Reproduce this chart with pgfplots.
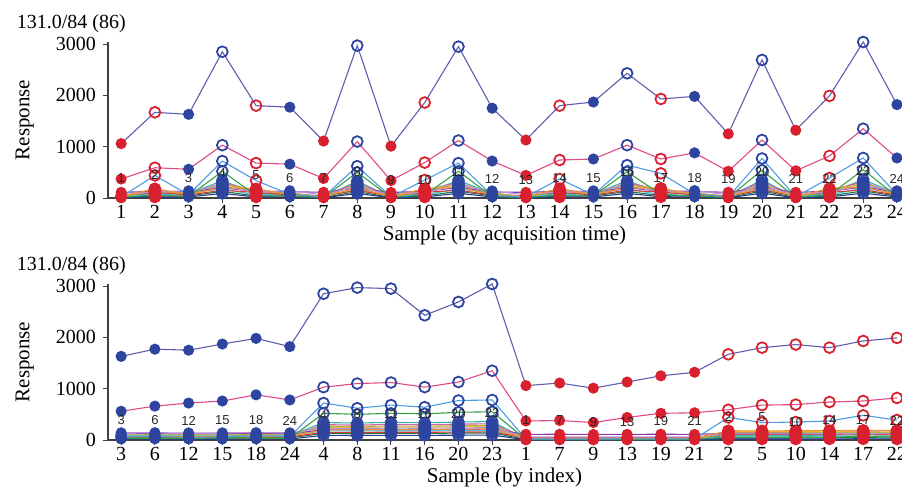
\documentclass[border=0pt]{standalone}
\usepackage{fontspec}
\setmainfont{Liberation Serif}
\newfontfamily\labfont{Liberation Sans}
\usepackage{pgfplots}
\usepackage{pgfplotstable}
\pgfplotsset{compat=1.18}

\definecolor{lnpurple}{HTML}{5E5EB0}
\definecolor{lnpink}{HTML}{E04A86}
\definecolor{lnlblue}{HTML}{4E9BE0}
\definecolor{lngreen}{HTML}{38A046}
\definecolor{mkblue}{HTML}{2E45A0}
\definecolor{mkred}{HTML}{D8202E}
\definecolor{axisgray}{HTML}{404040}
\definecolor{labgray}{HTML}{282828}
\definecolor{c5}{HTML}{3AB0A8}
\definecolor{c6}{HTML}{D060B0}
\definecolor{c7}{HTML}{E8C830}
\definecolor{c8}{HTML}{8A3AA8}
\definecolor{c9}{HTML}{40C8E8}
\definecolor{c10}{HTML}{1E7A3A}
\definecolor{c11}{HTML}{263A9A}
\definecolor{c12}{HTML}{D83A3A}
\definecolor{c13}{HTML}{B8B040}
\definecolor{c14}{HTML}{B890E0}
\definecolor{c15}{HTML}{F09030}

% acq = sample number, idx = position in the lower chart, grp = marker group, ly = height of the sample label
\pgfplotstableread{
acq idx grp ly s1 s2 s3 s4 s5 s6 s7 s8 s9 s10 s11 s12 s13 s14 s15
1 13 c 380 1060 370 20 10 15 40 30 110 25 10 5 40 20 60 30
2 19 d 450 1670 590 440 60 95 150 170 130 60 40 20 110 140 120 180
3 1 a 380 1630 560 60 30 80 60 50 120 90 40 20 60 100 140 70
4 7 b 490 2850 1030 720 520 340 300 250 200 180 130 90 150 270 230 200
5 20 d 440 1800 680 340 50 85 145 165 128 58 38 20 108 138 118 178
6 2 a 380 1770 660 70 35 75 62 52 122 88 42 22 62 102 142 72
7 14 c 380 1110 380 20 10 18 42 28 112 26 10 5 42 20 62 30
8 8 b 500 2970 1100 620 500 330 290 245 195 175 125 88 148 265 225 195
9 15 c 360 1010 340 18 10 12 38 30 108 24 10 5 38 20 58 30
10 21 d 360 1860 690 350 60 90 150 172 130 60 40 20 110 140 120 180
11 9 b 500 2950 1120 680 520 345 305 255 205 182 132 92 152 272 232 205
12 3 a 380 1750 720 50 30 82 58 48 118 90 40 20 58 98 138 68
13 16 c 360 1130 440 22 10 15 40 32 110 25 10 5 40 20 60 30
14 22 d 390 1800 740 370 55 92 155 168 132 62 42 22 112 142 122 182
15 4 a 380 1870 760 60 40 78 60 50 120 88 40 20 60 100 140 70
16 10 b 500 2430 1030 640 510 335 295 248 198 178 128 90 150 268 228 198
17 23 d 390 1930 760 480 70 100 160 180 135 65 45 24 115 148 125 188
18 5 a 380 1980 880 80 35 85 65 55 125 92 42 22 62 104 144 74
19 17 c 370 1250 520 20 10 16 42 30 112 26 10 5 42 20 62 30
20 11 b 510 2690 1130 770 540 350 310 260 208 185 135 94 155 280 236 210
21 18 c 380 1320 530 22 10 14 40 30 110 25 10 5 40 20 60 30
22 24 d 380 1990 820 390 60 95 150 175 132 62 40 20 110 142 122 185
23 12 b 520 3040 1350 780 550 360 315 265 212 188 138 96 158 285 240 215
24 6 a 380 1820 780 70 30 80 62 50 120 90 40 20 60 100 140 70
}\data
\pgfplotstablesort[sort key=idx]{\databyidx}{\data}

\pgfplotsset{
  chart/.style={
    scale only axis, width=396.5pt, height=78pt,
    xmin=0.61, xmax=24.12, ymin=0, ymax=3040,
    axis lines*=left,
    axis line style={draw=axisgray, line width=0.6pt},
    ytick={0,1000,2000,3000}, xtick={1,...,24},
    tick align=outside, major tick length=2.5pt,
    tick style={draw=axisgray, line width=0.5pt},
    tick label style={font=\fontsize{10}{12}\selectfont, text=black},
    xticklabel style={yshift=2.5pt},
    /pgf/number format/assume math mode=true,
    scaled y ticks=false,
    yticklabel style={/pgf/number format/1000 sep={}},
    ylabel={Response},
    every axis y label/.style={at={(axis description cs:-0.105,0.5)}, rotate=90, anchor=center, font=\fontsize{10.5}{12}\selectfont},
    every axis x label/.style={at={(axis description cs:0.5,-0.24)}, anchor=center, font=\fontsize{10.5}{12}\selectfont},
    title={131.0/84 (86)},
    title style={at={(axis description cs:-0.118,0.97)}, anchor=south west, font=\fontsize{10}{12}\selectfont, inner sep=1pt},
    clip=false,
  },
  grp/.style={scatter, scatter src=explicit symbolic, line width=0.55pt,
    scatter/classes={
      a={mark=*, draw=mkblue, fill=mkblue, mark size=2.5pt},
      b={mark=o, draw=mkblue, mark size=2.7pt, line width=0.9pt},
      c={mark=*, draw=mkred, fill=mkred, mark size=2.5pt},
      d={mark=o, draw=mkred, mark size=2.7pt, line width=0.9pt}}},
  lab/.style={draw=none, nodes near coords, point meta=explicit symbolic,
    nodes near coords style={anchor=center, font=\labfont\fontsize{6.5}{7.5}\selectfont, text=labgray, inner sep=0pt}},
}

\begin{document}
\begin{tikzpicture}
\begin{axis}[chart, at={(0,0)}, anchor=south west,
  xlabel={Sample (by acquisition time)}]
\pgfplotsinvokeforeach{5,...,15}{
  \addplot[grp, color=c#1] table[x=acq, y=s#1, meta=grp] {\data};
}
\addplot[grp, color=lngreen] table[x=acq, y=s4, meta=grp] {\data};
\addplot[grp, color=lnlblue] table[x=acq, y=s3, meta=grp] {\data};
\addplot[grp, color=lnpink] table[x=acq, y=s2, meta=grp] {\data};
\addplot[grp, color=lnpurple] table[x=acq, y=s1, meta=grp] {\data};
\addplot[lab] table[x=acq, y=ly, meta=acq] {\data};
\end{axis}

\begin{axis}[chart, at={(0,-121pt)}, anchor=south west,
  xlabel={Sample (by index)},
  xticklabels={3,6,12,15,18,24,4,8,11,16,20,23,1,7,9,13,19,21,2,5,10,14,17,22}]
\pgfplotsinvokeforeach{5,...,15}{
  \addplot[grp, color=c#1] table[x=idx, y=s#1, meta=grp] {\databyidx};
}
\addplot[grp, color=lngreen] table[x=idx, y=s4, meta=grp] {\databyidx};
\addplot[grp, color=lnlblue] table[x=idx, y=s3, meta=grp] {\databyidx};
\addplot[grp, color=lnpink] table[x=idx, y=s2, meta=grp] {\databyidx};
\addplot[grp, color=lnpurple] table[x=idx, y=s1, meta=grp] {\databyidx};
\addplot[lab] table[x=idx, y=ly, meta=acq] {\databyidx};
\end{axis}
\pgfresetboundingbox
\path[use as bounding box] (-54pt,-145pt) rectangle (397pt,99pt);
\end{tikzpicture}
\end{document}
